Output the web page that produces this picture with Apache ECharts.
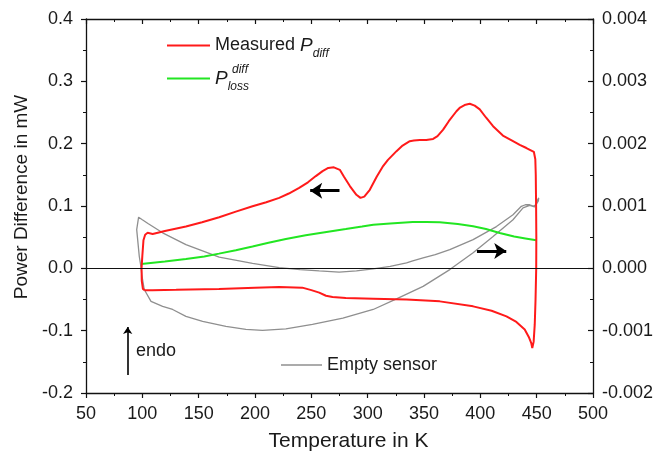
<!DOCTYPE html>
<html><head><meta charset="utf-8">
<script src="https://cdn.jsdelivr.net/npm/echarts@6/dist/echarts.min.js"></script>
<style>html,body{margin:0;padding:0;background:#fff}#c{width:667px;height:458px}</style>
</head><body><div id="c"></div>
<script>
// Measured P_diff (left axis, mW) : closed loop
const measuredT = [102,109,130,168,200,221.5,242,250,257,263,268.8,280.6,305,334.5,364,393.6,410,423.2,432,439.4,443,445.2,446.1,447.3,448.3,449,449.6,449.7,449.5,449.2,448.8,447.5,446.8,
  440.9,435,429,420,411.3,405,399.5,395,390.6,386,382,378.8,372,367,362,358.1,352,346.3,341,337.4,331,325.6,318,313.7,308,301.9,297,293.6,290,284.2,279,275.3,270,265,260,254,247,239.2,230,221.5,210,197.8,183,168.2,153,138.7,120,109.2,104.7,102.5,101,100,99.3,99.5,100.5,102];
const measuredP = [-0.035,-0.035,-0.0345,-0.033,-0.031,-0.030,-0.031,-0.035,-0.039,-0.044,-0.046,-0.0475,-0.0486,-0.050,-0.053,-0.061,-0.068,-0.077,-0.086,-0.098,-0.110,-0.120,-0.128,-0.118,-0.090,-0.050,0.0,0.05,0.10,0.15,0.175,0.187,0.188,
  0.193,0.198,0.204,0.213,0.228,0.242,0.255,0.261,0.264,0.262,0.258,0.252,0.236,0.2225,0.212,0.2076,0.206,0.206,0.205,0.204,0.197,0.188,0.174,0.164,0.147,0.126,0.115,0.113,0.118,0.132,0.147,0.158,0.162,0.161,0.156,0.148,0.138,0.129,0.120,0.113,0.106,0.0995,0.091,0.082,0.074,0.067,0.060,0.055,0.057,0.054,0.045,0.02,0.0,-0.02,-0.033,-0.035];
// P_loss^diff (left axis, mW)
const lossT = [99,120,138.7,155,168,183,197.8,212,227.4,245,262,280.6,295,305,320,340,352,364,380,393.6,405,417.2,430,440,449.7];
const lossP = [0.007,0.011,0.015,0.019,0.0236,0.029,0.035,0.041,0.047,0.053,0.058,0.063,0.067,0.070,0.072,0.0744,0.0745,0.0738,0.071,0.0674,0.063,0.0568,0.051,0.048,0.045];
// Empty sensor (right axis, mW)
const emptyT = [99,97.3,95,96.7,100,105,118,138.7,168.2,197.8,221.5,240,257,274.7,290,304.9,320,334.5,340,349.2,360,372.9,393.6,414.3,429,436.4,440,443.8,447,449.5,451.5,451.8,450.5,449.8,448.2,
  443.8,437.9,429,411.3,393.6,372.9,349.2,325.6,304.9,278,251,227.4,206.7,191.9,174.2,153.5,138.7,126.9,118,107.7,101.7,99.5,99];
const emptyP = [0.0,0.00019,0.00062,0.00082,0.00078,0.00072,0.00057,0.00038,0.00018,0.00008,0.00001,-0.00002,-0.00004,-0.00006,-0.00004,-0.00001,0.00003,0.000087,0.00012,0.000167,0.00022,0.00030,0.00046,0.00067,0.00086,0.000995,0.00102,0.00102,0.00100,0.00102,0.00108,0.00113,0.00112,0.00106,0.000985,
  0.00101,0.00097,0.00078,0.00051,0.00025,-0.00002,-0.00029,-0.00049,-0.00066,-0.00080,-0.00090,-0.00097,-0.000995,-0.00098,-0.00093,-0.00085,-0.00077,-0.00066,-0.00061,-0.00053,-0.00034,-0.0001,0.0];
const xRange = [50, 500, 50];
const leftRange = [-0.2, 0.4, 0.1];
const rightRange = [-0.002, 0.004, 0.001];
const seriesNames = ['Measured P_diff', 'P_loss^diff', 'Empty sensor'];
const annotText = 'endo';

const zip = (a, b) => a.map((v, i) => [v, b[i]]);
const FONT = '"Liberation Sans", Arial, sans-serif';
const TXT = '#1a1a1a';
const chart = echarts.init(document.getElementById('c'));
const axisLine = {show: true, onZero: false, lineStyle: {color: '#111', width: 1.3}};
const richBase = {
  n: {fontSize: 18, fontFamily: FONT, color: TXT, lineHeight: 28, verticalAlign: 'middle'},
  p: {fontSize: 19, fontFamily: FONT, fontStyle: 'italic', color: TXT, lineHeight: 28, verticalAlign: 'middle'},
  s: {fontSize: 12, fontFamily: FONT, fontStyle: 'italic', color: TXT, lineHeight: 10, verticalAlign: 'bottom'}
};
chart.setOption({
  animation: false,
  backgroundColor: '#fff',
  grid: {left: 86, right: 74, top: 19, bottom: 65},
  xAxis: [{
    type: 'value', min: xRange[0], max: xRange[1], interval: xRange[2],
    name: 'Temperature in K', nameLocation: 'middle', nameGap: 38,
    nameTextStyle: {fontSize: 21, fontFamily: FONT, color: TXT, padding: [0, 0, 0, 18]},
    axisLine: axisLine,
    axisTick: {show: true, inside: false, length: 5, lineStyle: {color: '#111', width: 1.2}},
    minorTick: {show: true, splitNumber: 2, length: 3, lineStyle: {color: '#111', width: 1}},
    axisLabel: {fontSize: 18, fontFamily: FONT, color: TXT, margin: 12},
    splitLine: {show: false}
  }, {
    type: 'value', position: 'top', min: xRange[0], max: xRange[1], interval: xRange[2],
    axisLine: axisLine,
    axisTick: {show: true, inside: true, length: 5, lineStyle: {color: '#111', width: 1.2}},
    minorTick: {show: true, splitNumber: 2, length: 3, lineStyle: {color: '#111', width: 1}},
    axisLabel: {show: false}, splitLine: {show: false}
  }],
  yAxis: [{
    type: 'value', min: leftRange[0], max: leftRange[1], interval: leftRange[2],
    name: 'Power Difference in mW', nameLocation: 'middle', nameGap: 54,
    nameTextStyle: {fontSize: 19, fontFamily: FONT, color: TXT, padding: [0, 0, 0, 18]},
    axisLine: axisLine,
    axisTick: {show: true, inside: false, length: 5, lineStyle: {color: '#111', width: 1.2}},
    minorTick: {show: true, splitNumber: 2, length: 3, lineStyle: {color: '#111', width: 1}},
    axisLabel: {fontSize: 18, fontFamily: FONT, color: TXT, margin: 13,
      formatter: v => (Math.abs(v) < 1e-9 ? 0 : v).toFixed(1)},
    splitLine: {show: false}
  }, {
    type: 'value', position: 'right', min: rightRange[0], max: rightRange[1], interval: rightRange[2],
    axisLine: axisLine,
    axisTick: {show: true, inside: true, length: 5, lineStyle: {color: '#111', width: 1.2}},
    minorTick: {show: true, splitNumber: 2, length: 3, lineStyle: {color: '#111', width: 1}},
    axisLabel: {fontSize: 18, fontFamily: FONT, color: TXT, margin: 9,
      formatter: v => (Math.abs(v) < 1e-9 ? 0 : v).toFixed(3)},
    splitLine: {show: false}
  }],
  legend: [{
    data: [seriesNames[0]], left: 167, top: 36, padding: 0, icon: 'rect', itemWidth: 43, itemHeight: 2, itemGap: 5,
    formatter: () => '{n|Measured }{p|P}{s|diff}', textStyle: {rich: richBase}
  }, {
    data: [seriesNames[1]], left: 167, top: 69, padding: 0, icon: 'rect', itemWidth: 43, itemHeight: 2,
    formatter: () => '{p|P}{s|loss}', textStyle: {rich: richBase}
  }, {
    data: [seriesNames[2]], left: 281, top: 356, padding: 0, icon: 'rect', itemWidth: 41, itemHeight: 1.3,
    textStyle: {fontSize: 18, fontFamily: FONT, color: TXT}
  }],
  graphic: [{
    type: 'text', left: 232, top: 64,
    style: {text: 'diff', font: 'italic 12px ' + FONT, fill: TXT}
  }, {
    type: 'text', left: 136, top: 342,
    style: {text: annotText, font: '18px ' + FONT, fill: TXT}
  }],
  series: [{
    name: seriesNames[0], type: 'line', data: zip(measuredT, measuredP), symbol: 'none',
    lineStyle: {color: '#ff1a1a', width: 2}, itemStyle: {color: '#ff1a1a'}, z: 4,
    markLine: {
      silent: true, animation: false, label: {show: false},
      data: [
        [{coord: [xRange[0], 0], symbol: 'none', lineStyle: {color: '#111', width: 1.2, type: 'solid'}},
         {coord: [xRange[1], 0], symbol: 'none'}],
        [{coord: [275, 0.1245], symbol: 'none', lineStyle: {color: '#000', width: 3, type: 'solid'}},
         {coord: [249, 0.1245], symbol: 'arrow', symbolSize: 12}],
        [{coord: [397, 0.028], symbol: 'none', lineStyle: {color: '#000', width: 3, type: 'solid'}},
         {coord: [423, 0.028], symbol: 'arrow', symbolSize: 12}],
        [{coord: [87, -0.171], symbol: 'none', lineStyle: {color: '#000', width: 1.6, type: 'solid'}},
         {coord: [87, -0.094], symbol: 'arrow', symbolSize: 7}]
      ]
    }
  }, {
    name: seriesNames[1], type: 'line', data: zip(lossT, lossP), symbol: 'none',
    lineStyle: {color: '#22e622', width: 2}, itemStyle: {color: '#22e622'}, z: 3
  }, {
    name: seriesNames[2], type: 'line', yAxisIndex: 1, data: zip(emptyT, emptyP), symbol: 'none',
    lineStyle: {color: '#8f8f8f', width: 1.3}, itemStyle: {color: '#8f8f8f'}, z: 2
  }]
});
</script></body></html>
